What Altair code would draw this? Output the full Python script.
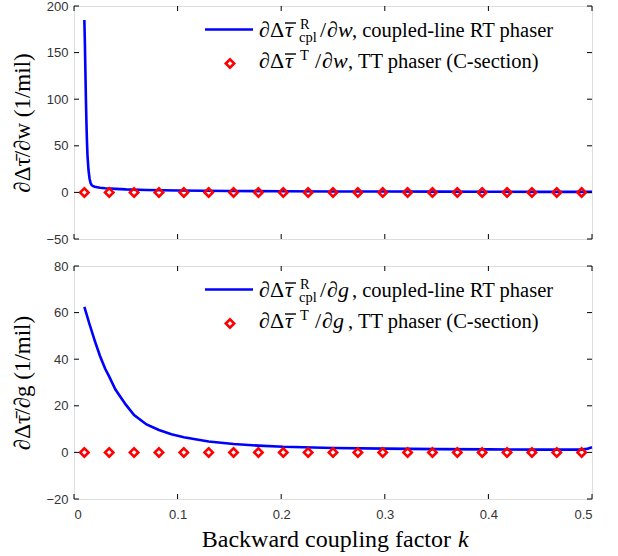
import altair as alt
import pandas as pd

# ---------------- data ----------------
k_markers = [0.010, 0.034, 0.058, 0.082, 0.106, 0.130, 0.154, 0.178, 0.202, 0.226, 0.250,
             0.274, 0.298, 0.322, 0.346, 0.370, 0.394, 0.418, 0.442, 0.466, 0.490]
tt_dw = [0, 0, 0, 0, 0, 0, 0, 0, 0, 0, 0, 0, 0, 0, 0, 0, 0, 0, 0, 0, 0]
tt_dg = [0, 0, 0, 0, 0, 0, 0, 0, 0, 0, 0, 0, 0, 0, 0, 0, 0, 0, 0, 0, 0]

k_curve_w = [0.010, 0.0105, 0.011, 0.0115, 0.012, 0.0125, 0.013, 0.014, 0.015, 0.016, 0.017,
             0.018, 0.020, 0.025, 0.030, 0.040, 0.050, 0.070, 0.100, 0.150, 0.200, 0.250,
             0.300, 0.350, 0.400, 0.450, 0.500]
rt_dw = [185, 160, 130, 100, 75, 55, 40, 24, 15, 10, 8, 7, 6, 5, 4.5, 3.8, 3.2, 2.5, 2.0,
         1.5, 1.2, 1.0, 0.9, 0.8, 0.7, 0.6, 0.6]

k_curve_g = [0.010, 0.015, 0.020, 0.025, 0.030, 0.034, 0.040, 0.050, 0.058, 0.070, 0.082,
             0.094, 0.106, 0.120, 0.130, 0.154, 0.178, 0.202, 0.250, 0.300, 0.350, 0.400,
             0.450, 0.490, 0.495, 0.500]
rt_dg = [62.5, 55, 48, 41.5, 36, 32.5, 27, 20.5, 16, 12, 9.6, 7.8, 6.5, 5.4, 4.7, 3.6, 2.9,
         2.4, 1.9, 1.6, 1.4, 1.3, 1.2, 1.2, 1.5, 2.2]

x_ticks = [0, 0.1, 0.2, 0.3, 0.4, 0.5]
y_ticks_w = [-50, 0, 50, 100, 150, 200]
y_ticks_g = [-20, 0, 20, 40, 60, 80]

W, H = 518, 233
SERIF = "Liberation Serif"
SANS = "Liberation Sans"
TICK_LEN = 5
LFS = 20.5   # legend text
MFS = 22     # legend math glyphs
SFS = 14.5   # super/subscripts


def txt_layer(txt, px, py, fs, style="normal", align="left"):
    tdf = pd.DataFrame({"txt": [txt]})
    return alt.Chart(tdf).mark_text(align=align, baseline="alphabetic", font=SERIF,
                                    fontSize=fs, fontStyle=style, color="black").encode(
        x=alt.value(px), y=alt.value(py), text="txt:N")


def panel(curve_k, curve_v, mk_v, ydom, yticks, ytitle, var, show_x):
    xs = alt.Scale(domain=[0, 0.5], nice=False, zero=False)
    ys = alt.Scale(domain=ydom, nice=False, zero=False)
    if show_x:
        xaxis = alt.Axis(values=x_ticks, format=".1~f", title=None,
                         ticks=False, domain=False, grid=False, labelPadding=9,
                         labelFont=SANS, labelFontSize=13, labelColor="#333333")
    else:
        xaxis = None
    yaxis = alt.Axis(values=yticks, title=ytitle, ticks=False, domain=False, grid=False,
                     labelPadding=6, labelFont=SANS, labelFontSize=13, labelColor="#333333",
                     titleFont=SERIF, titleFontSize=23, titleFontWeight="normal",
                     titleColor="black", titlePadding=11)

    def X(f):
        return alt.X(f, scale=xs, axis=xaxis)

    def Y(f):
        return alt.Y(f, scale=ys, axis=yaxis)

    cdf = pd.DataFrame({"k": curve_k, "v": curve_v})
    mdf = pd.DataFrame({"k": k_markers, "v": mk_v})

    line = alt.Chart(cdf).mark_line(color="#0000ff", strokeWidth=2.6).encode(
        x=X("k:Q"), y=Y("v:Q"))
    pts = alt.Chart(mdf).mark_point(shape="diamond", filled=False, color="#ff0000",
                                   strokeWidth=2.6, size=70, opacity=1).encode(
        x=X("k:Q"), y=Y("v:Q"))

    xt = pd.DataFrame({"k": x_ticks})
    yt = pd.DataFrame({"v": yticks})
    tick_style = dict(color="black", strokeWidth=1)
    xt_bot = alt.Chart(xt).mark_rule(**tick_style).encode(
        x=X("k:Q"), y=alt.value(H), y2=alt.value(H - TICK_LEN))
    xt_top = alt.Chart(xt).mark_rule(**tick_style).encode(
        x=X("k:Q"), y=alt.value(0), y2=alt.value(TICK_LEN))
    yt_left = alt.Chart(yt).mark_rule(**tick_style).encode(
        y=Y("v:Q"), x=alt.value(0), x2=alt.value(TICK_LEN))
    yt_right = alt.Chart(yt).mark_rule(**tick_style).encode(
        y=Y("v:Q"), x=alt.value(W - TICK_LEN), x2=alt.value(W))

    one = pd.DataFrame({"a": [0]})
    leg_line = alt.Chart(one).mark_rule(color="#0000ff", strokeWidth=2.6).encode(
        x=alt.value(131), x2=alt.value(179), y=alt.value(23.5))
    leg_pt = alt.Chart(one).mark_point(shape="diamond", filled=False, color="#ff0000",
                                      strokeWidth=2.6, size=70, opacity=1).encode(
        x=alt.value(156), y=alt.value(57.5))

    b1, b2 = 31, 62   # baselines of the two legend rows
    bars = []
    for by in (b1 - 14, b2 - 14):
        bars.append(alt.Chart(one).mark_rule(color="black", strokeWidth=1.4).encode(
            x=alt.value(211), x2=alt.value(222), y=alt.value(by)))

    texts = [
        # row 1
        txt_layer("∂", 185, b1, MFS, "italic"),
        txt_layer("Δ", 196, b1, MFS),
        txt_layer("τ", 211, b1, MFS, "italic"),
        txt_layer("R", 226, b1 - 8, SFS),
        txt_layer("cpl", 225, b1 + 5, SFS),
        txt_layer("/", 246, b1, MFS),
        txt_layer("∂", 253, b1, MFS, "italic"),
        txt_layer(var, 264, b1, MFS, "italic"),
        txt_layer(", coupled-line RT phaser", 278, b1, LFS),
        # row 2
        txt_layer("∂", 185, b2, MFS, "italic"),
        txt_layer("Δ", 196, b2, MFS),
        txt_layer("τ", 211, b2, MFS, "italic"),
        txt_layer("T", 226, b2 - 8, SFS),
        txt_layer("/", 241, b2, MFS),
        txt_layer("∂", 248, b2, MFS, "italic"),
        txt_layer(var, 259, b2, MFS, "italic"),
        txt_layer(", TT phaser (C-section)", 274, b2, LFS),
    ]
    if show_x:
        texts.append(txt_layer("Backward coupling factor", 377, H + 48, 24, align="right"))
        texts.append(txt_layer("k", 384, H + 48, 24, "italic"))

    return alt.layer(line, pts, xt_bot, xt_top, yt_left, yt_right, leg_line, leg_pt,
                     *bars, *texts).properties(width=W, height=H)


top = panel(k_curve_w, rt_dw, tt_dw, [-50, 200], y_ticks_w, "∂Δτ̄/∂w (1/mil)", "w", False)
bot = panel(k_curve_g, rt_dg, tt_dg, [-20, 80], y_ticks_g, "∂Δτ̄/∂g (1/mil)", "g", True)

chart = alt.vconcat(top, bot, spacing=12).properties(
    padding={"left": 11, "top": -1, "right": 5, "bottom": 2}
).configure_view(stroke="black", strokeWidth=1.2).configure(background="white")

chart.save("out.html", embed_options={"renderer": "svg", "actions": False})
